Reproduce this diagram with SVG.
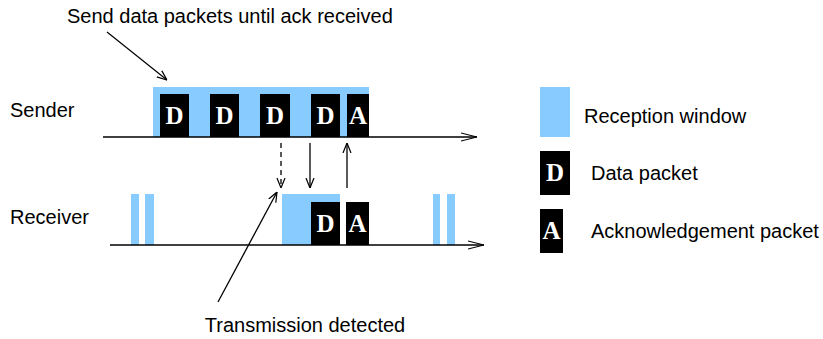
<svg xmlns="http://www.w3.org/2000/svg" width="823" height="339" viewBox="0 0 823 339">
<defs>
<style>
.win{fill:#88ccff}
.pk{fill:#000}
.pl{font-family:"Liberation Serif",serif;font-weight:bold;font-size:25px;fill:#fff;text-anchor:middle}
.lb{font-family:"Liberation Sans",Arial,sans-serif;font-size:20px;fill:#000}
.ln{stroke:#000;stroke-width:1.3;fill:none}
</style>
<marker id="ah" viewBox="0 0 10 10" refX="10" refY="5" markerWidth="10" markerHeight="10" markerUnits="userSpaceOnUse" orient="auto">
<path d="M0,1 L10,5 L0,9" fill="none" stroke="#000" stroke-width="1.2"/>
</marker>
<marker id="ax" viewBox="0 0 16 10" refX="16" refY="5" markerWidth="16" markerHeight="10" markerUnits="userSpaceOnUse" orient="auto">
<path d="M0,1 L16,5 L0,9" fill="none" stroke="#000" stroke-width="1.2"/>
</marker>
</defs>
<rect width="823" height="339" fill="#fff"/>
<g id="sender">
<text class="lb" x="10" y="117">Sender</text>
<rect class="win" x="153" y="87" width="216" height="50"/>
<rect class="pk" x="160" y="94" width="29" height="43"/><text class="pl" x="174.5" y="124">D</text>
<rect class="pk" x="210" y="94" width="29" height="43"/><text class="pl" x="224.5" y="124">D</text>
<rect class="pk" x="260" y="94" width="30" height="43"/><text class="pl" x="275" y="124">D</text>
<rect class="pk" x="311" y="94" width="29" height="43"/><text class="pl" x="325.5" y="124">D</text>
<rect class="pk" x="347" y="94" width="22" height="43"/><text class="pl" x="358" y="124">A</text>
</g>
<g id="receiver">
<text class="lb" x="10" y="224">Receiver</text>
<rect class="win" x="131" y="194" width="8" height="51"/>
<rect class="win" x="145" y="194" width="9" height="51"/>
<rect class="win" x="433" y="194" width="7" height="51"/>
<rect class="win" x="447" y="194" width="8" height="51"/>
<rect class="win" x="282" y="194" width="58" height="51"/>
<rect class="pk" x="311" y="202" width="29" height="43"/><text class="pl" x="325.5" y="232">D</text>
<rect class="pk" x="346" y="202" width="23" height="43"/><text class="pl" x="357.5" y="232">A</text>
</g>
<g id="legend">
<rect class="win" x="540" y="87" width="30" height="50"/>
<text class="lb" x="584" y="123">Reception window</text>
<rect class="pk" x="540" y="151" width="30" height="44"/><text class="pl" x="555" y="181">D</text>
<text class="lb" x="591" y="180">Data packet</text>
<rect class="pk" x="540" y="209" width="23" height="44"/><text class="pl" x="551.5" y="239">A</text>
<text class="lb" x="591" y="238">Acknowledgement packet</text>
</g>
<g id="annotations">
<text class="lb" x="67" y="23">Send data packets until ack received</text>
<text class="lb" x="305" y="332" text-anchor="middle">Transmission detected</text>
</g>
<g id="connectors">
<line class="ln" x1="103" y1="137" x2="477" y2="137" marker-end="url(#ax)"/>
<line class="ln" x1="110" y1="245" x2="484" y2="245" marker-end="url(#ax)"/>
<line class="ln" x1="281" y1="143" x2="281" y2="188" stroke-dasharray="5,4" marker-end="url(#ah)"/>
<line class="ln" x1="310" y1="143" x2="310" y2="188" marker-end="url(#ah)"/>
<line class="ln" x1="347" y1="188" x2="347" y2="143" marker-end="url(#ah)"/>
<line class="ln" x1="218" y1="302" x2="277" y2="192" marker-end="url(#ah)"/>
<line class="ln" x1="107" y1="32" x2="167" y2="80" marker-end="url(#ah)"/>
</g>
</svg>
